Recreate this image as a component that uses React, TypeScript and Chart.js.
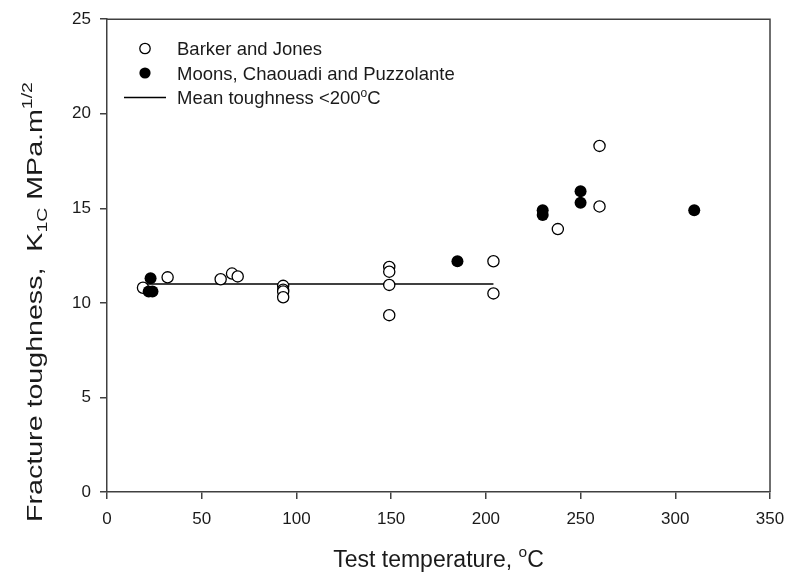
import React, { useEffect, useRef } from "react";
import { Chart, registerables } from "chart.js";

Chart.register(...registerables);

// ---- Data ----
const barkerX = [19, 32, 60, 66, 69, 93, 93, 93, 93, 149, 149, 149, 149, 204, 204, 238, 260, 260];
const barkerY = [10.8, 11.35, 11.25, 11.55, 11.4, 10.9, 10.7, 10.6, 10.3, 11.9, 11.65, 10.95, 9.35, 12.2, 10.5, 13.9, 18.3, 15.1];

const moonsX = [22, 24, 23, 185, 230, 230, 250, 250, 310];
const moonsY = [10.6, 10.6, 11.3, 12.2, 14.9, 14.65, 15.9, 15.3, 14.9];

const meanX = [20, 204];
const meanY = [11.0, 11.0];

const xTicks = [0, 50, 100, 150, 200, 250, 300, 350];
const yTicks = [0, 5, 10, 15, 20, 25];

const legendLabels = ["Barker and Jones", "Moons, Chaouadi and Puzzolante", "Mean toughness <200"];

const FONT = "'Liberation Sans', Arial, Helvetica, sans-serif";
const AXIS = "#404040";
const TEXT = "#1a1a1a";

const toPts = (xs: number[], ys: number[]) => xs.map((x, i) => ({ x, y: ys[i] }));

const decorPlugin = {
  id: "decor",
  afterDraw(chart: any) {
    const { ctx, chartArea: a } = chart;
    ctx.save();

    // top & right frame
    ctx.strokeStyle = AXIS;
    ctx.lineWidth = 1.5;
    ctx.beginPath();
    ctx.moveTo(a.left, a.top);
    ctx.lineTo(a.right, a.top);
    ctx.lineTo(a.right, a.bottom);
    ctx.stroke();

    // legend
    ctx.fillStyle = TEXT;
    ctx.textBaseline = "alphabetic";
    ctx.textAlign = "left";
    const big = `18.5px ${FONT}`;
    const sup = `12px ${FONT}`;
    const symX = a.left + 38;
    const txtX = a.left + 70;
    const base = [a.top + 36, a.top + 60.5, a.top + 85];

    ctx.beginPath();
    ctx.arc(symX, base[0] - 6.7, 5.2, 0, Math.PI * 2);
    ctx.fillStyle = "#fff";
    ctx.fill();
    ctx.strokeStyle = "#000";
    ctx.lineWidth = 1.3;
    ctx.stroke();
    ctx.beginPath();
    ctx.arc(symX, base[1] - 6.7, 5.6, 0, Math.PI * 2);
    ctx.fillStyle = "#000";
    ctx.fill();
    ctx.beginPath();
    ctx.moveTo(a.left + 17, base[2] - 6.7);
    ctx.lineTo(a.left + 59, base[2] - 6.7);
    ctx.strokeStyle = "#000";
    ctx.lineWidth = 1.3;
    ctx.stroke();

    ctx.fillStyle = TEXT;
    ctx.font = big;
    ctx.fillText(legendLabels[0], txtX, base[0]);
    ctx.fillText(legendLabels[1], txtX, base[1]);
    ctx.fillText(legendLabels[2], txtX, base[2]);
    const w = ctx.measureText(legendLabels[2]).width;
    ctx.font = sup;
    ctx.fillText("o", txtX + w, base[2] - 7);
    const wo = ctx.measureText("o").width;
    ctx.font = big;
    ctx.fillText("C", txtX + w + wo, base[2]);

    // x-axis title
    const tFont = `23px ${FONT}`;
    const sFont = `15.5px ${FONT}`;
    const xParts: [string, string, number][] = [
      ["Test temperature, ", tFont, 0],
      ["o", sFont, -10],
      ["C", tFont, 0],
    ];
    let total = 0;
    for (const [t, f] of xParts) {
      ctx.font = f;
      total += ctx.measureText(t).width;
    }
    let cx = (a.left + a.right) / 2 - total / 2;
    const xBase = 566.5;
    for (const [t, f, dy] of xParts) {
      ctx.font = f;
      ctx.fillText(t, cx, xBase + dy);
      cx += ctx.measureText(t).width;
    }

    // y-axis title (stretched along its reading direction, as in the reference)
    const yFont = `22px ${FONT}`;
    const ysFont = `15px ${FONT}`;
    const yParts: [string, string, number][] = [
      ["Fracture toughness,  K", yFont, 0],
      ["1C", ysFont, 5],
      [" MPa.m", yFont, 0],
      ["1/2", ysFont, -10],
    ];
    total = 0;
    for (const [t, f] of yParts) {
      ctx.font = f;
      total += ctx.measureText(t).width;
    }
    const stretch = 1.3;
    ctx.translate(41.5, 302);
    ctx.rotate(-Math.PI / 2);
    ctx.scale(stretch, 1);
    let cy = -total / 2;
    for (const [t, f, dy] of yParts) {
      ctx.font = f;
      ctx.fillText(t, cy, dy);
      cy += ctx.measureText(t).width;
    }

    ctx.restore();
  },
};

export default function App() {
  const ref = useRef<HTMLCanvasElement | null>(null);

  useEffect(() => {
    if (!ref.current) return;
    const tickFont = { family: FONT, size: 17 };
    const chart = new Chart(ref.current, {
      type: "scatter",
      data: {
        datasets: [
          {
            label: legendLabels[1],
            data: toPts(moonsX, moonsY),
            pointStyle: "circle",
            pointRadius: 6,
            pointBackgroundColor: "#000",
            pointBorderColor: "#000",
            pointBorderWidth: 0,
            order: 0,
          },
          {
            label: legendLabels[0],
            data: toPts(barkerX, barkerY),
            pointStyle: "circle",
            pointRadius: 5.6,
            pointBackgroundColor: "#fff",
            pointBorderColor: "#000",
            pointBorderWidth: 1.3,
            order: 1,
          },
          {
            type: "line",
            label: legendLabels[2],
            data: toPts(meanX, meanY),
            showLine: true,
            borderColor: "#000",
            borderWidth: 1.4,
            pointRadius: 0,
            fill: false,
            order: 2,
          } as any,
        ],
      },
      options: {
        animation: false,
        responsive: false,
        maintainAspectRatio: false,
        events: [],
        layout: { padding: { top: 14, right: 27, left: 0, bottom: 0 } },
        plugins: {
          legend: { display: false },
          tooltip: { enabled: false },
          title: { display: false },
        },
        scales: {
          x: {
            type: "linear",
            min: 0,
            max: 350,
            afterBuildTicks: (s: any) => {
              s.ticks = xTicks.map((v) => ({ value: v }));
            },
            afterFit: (s: any) => {
              s.height = 81;
            },
            grid: {
              display: true,
              drawOnChartArea: false,
              drawTicks: true,
              tickLength: 7,
              color: AXIS,
              lineWidth: 1.5,
            },
            border: { display: true, color: AXIS, width: 1.5 },
            ticks: { padding: 10, font: tickFont, color: TEXT, maxRotation: 0, autoSkip: false },
          },
          y: {
            type: "linear",
            min: 0,
            max: 25,
            afterBuildTicks: (s: any) => {
              s.ticks = yTicks.map((v) => ({ value: v }));
            },
            afterFit: (s: any) => {
              s.width = 107;
            },
            grid: {
              display: true,
              drawOnChartArea: false,
              drawTicks: true,
              tickLength: 7,
              color: AXIS,
              lineWidth: 1.5,
            },
            border: { display: true, color: AXIS, width: 1.5 },
            ticks: { padding: 9, font: tickFont, color: TEXT, autoSkip: false },
          },
        },
      },
      plugins: [decorPlugin],
    });
    return () => chart.destroy();
  }, []);

  return (
    <div style={{ position: "absolute", left: 0, top: 0, width: 797, height: 573, background: "#fff" }}>
      <canvas ref={ref} width={797} height={573} style={{ display: "block", width: 797, height: 573 }} />
    </div>
  );
}
